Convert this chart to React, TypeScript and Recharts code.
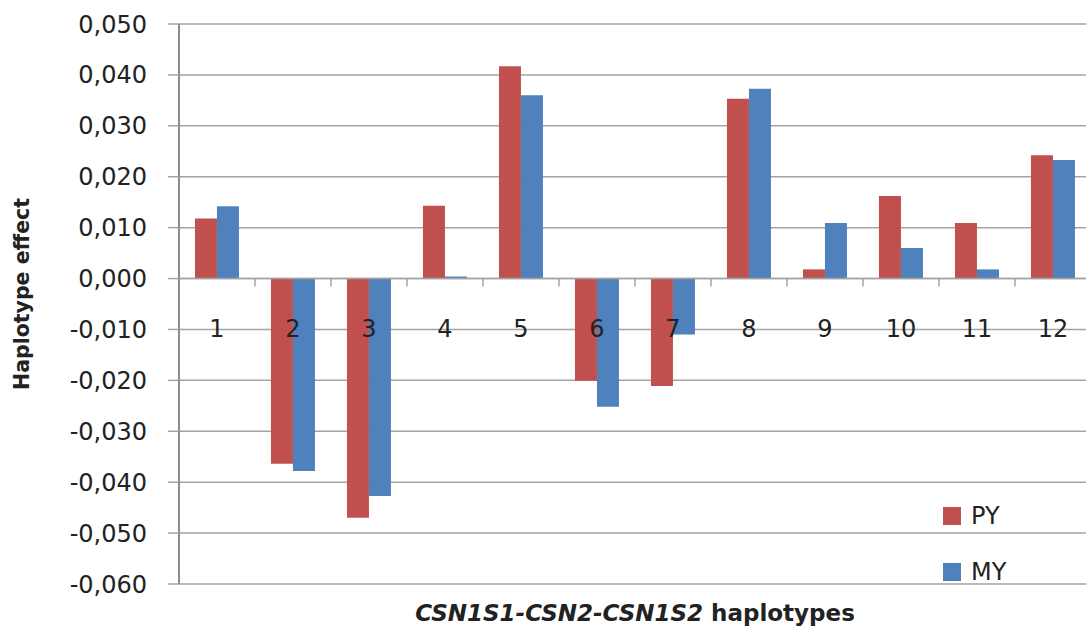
import { ComposedChart, Bar, XAxis, YAxis, CartesianGrid, Legend, ReferenceLine } from 'recharts';

const haplotypes = ['1', '2', '3', '4', '5', '6', '7', '8', '9', '10', '11', '12'];
const pyValues = [0.0118, -0.0364, -0.047, 0.0143, 0.0417, -0.0201, -0.0211, 0.0353, 0.0018, 0.0162, 0.0109, 0.0242];
const myValues = [0.0142, -0.0378, -0.0427, 0.0004, 0.036, -0.0252, -0.011, 0.0373, 0.0109, 0.006, 0.0018, 0.0233];
const yTicks = [-0.06, -0.05, -0.04, -0.03, -0.02, -0.01, 0, 0.01, 0.02, 0.03, 0.04, 0.05];
const seriesOrder = ['PY', 'MY'];

const data = haplotypes.map((name, i) => ({ name, PY: pyValues[i], MY: myValues[i] }));

const RED = '#C0504D';
const BLUE = '#4F81BD';
const GRID = '#A3A3A3';
const TEXT = '#222';
const FONT = '"DejaVu Sans", Verdana, sans-serif';

// chart geometry
const W = 1095;
const H = 627;
const TOP = 24;
const XAXIS_H = 43;
const YAXIS_W = 179;
const RIGHT = 4;
const PLOT_H = H - TOP - XAXIS_H;
const PLOT_W = W - YAXIS_W - RIGHT;
const BAND = PLOT_W / haplotypes.length;
const Y_MIN = -0.06;
const Y_MAX = 0.05;
const yOf = (v: number) => TOP + ((Y_MAX - v) / (Y_MAX - Y_MIN)) * PLOT_H;

const fmt = (v: number) => v.toFixed(3).replace('.', ',');

function CategoryTick({ x, payload }: any) {
  const zeroY = yOf(0);
  const labelY = yOf(-0.01);
  const left = x - BAND / 2;
  return (
    <g>
      {payload.index > 0 && <line x1={left} x2={left} y1={zeroY} y2={zeroY + 8} stroke={GRID} strokeWidth={1.5} />}
      <text x={x} y={labelY} textAnchor="middle" dominantBaseline="central" fontSize={24} fontFamily={FONT} fill={TEXT}>
        {payload.value}
      </text>
    </g>
  );
}

function XTitle(props: any) {
  const vb = props.viewBox ?? {};
  const cx = (vb.x ?? YAXIS_W) + (vb.width ?? PLOT_W) / 2;
  return (
    <text x={cx} y={621} textAnchor="middle" fontSize={23} fontWeight="bold" fontFamily={FONT} fill={TEXT}>
      <tspan fontStyle="italic">CSN1S1-CSN2-CSN1S2</tspan> haplotypes
    </text>
  );
}

function YTitle() {
  const cy = TOP + PLOT_H / 2 - 10;
  return (
    <text x={22} y={cy} transform={`rotate(-90, 22, ${cy})`} textAnchor="middle" dominantBaseline="central" fontSize={20.5} fontWeight="bold" fontFamily={FONT} fill={TEXT}>
      Haplotype effect
    </text>
  );
}

function LegendBox({ payload }: any) {
  const items = [...(payload ?? [])].sort((a: any, b: any) => seriesOrder.indexOf(a.value) - seriesOrder.indexOf(b.value));
  return (
    <div style={{ fontFamily: FONT, fontSize: 24, color: TEXT }}>
      {items.map((p: any) => (
        <div key={p.value} style={{ display: 'flex', alignItems: 'center', height: 56 }}>
          <span style={{ display: 'inline-block', width: 18, height: 18, background: p.color, marginRight: 10 }} />
          <span>{p.value}</span>
        </div>
      ))}
    </div>
  );
}

export default function App() {
  return (
    <div style={{ position: 'absolute', left: 0, top: 0, width: 1086, height: 627, overflow: 'hidden', background: '#fff' }}>
      <ComposedChart width={W} height={H} data={data} margin={{ top: TOP, right: RIGHT, bottom: 0, left: 0 }} barCategoryGap="21%" barGap={0}>
        <CartesianGrid vertical={false} stroke={GRID} strokeWidth={1.5} />
        <XAxis
          dataKey="name"
          height={XAXIS_H}
          axisLine={false}
          tickLine={false}
          tickSize={0}
          tickMargin={0}
          interval={0}
          tick={<CategoryTick />}
          label={<XTitle />}
        />
        <YAxis
          width={YAXIS_W}
          domain={[Y_MIN, Y_MAX]}
          ticks={yTicks}
          allowDataOverflow
          tickFormatter={fmt}
          tickSize={11}
          tickMargin={21}
          tick={{ fontSize: 24, fontFamily: FONT, fill: TEXT }}
          axisLine={{ stroke: '#8C8C8C', strokeWidth: 2 }}
          tickLine={{ stroke: GRID, strokeWidth: 1.5 }}
          label={<YTitle />}
        />
        <ReferenceLine y={0} stroke={GRID} strokeWidth={1.5} />
        <Legend
          layout="horizontal"
          verticalAlign="middle"
          align="center"
          content={<LegendBox />}
          wrapperStyle={{ position: 'absolute', left: 943, top: 488, width: 120, bottom: 'auto', right: 'auto' }}
        />
        <Bar dataKey="PY" name="PY" fill={RED} isAnimationActive={false} />
        <Bar dataKey="MY" name="MY" fill={BLUE} isAnimationActive={false} />
      </ComposedChart>
    </div>
  );
}
